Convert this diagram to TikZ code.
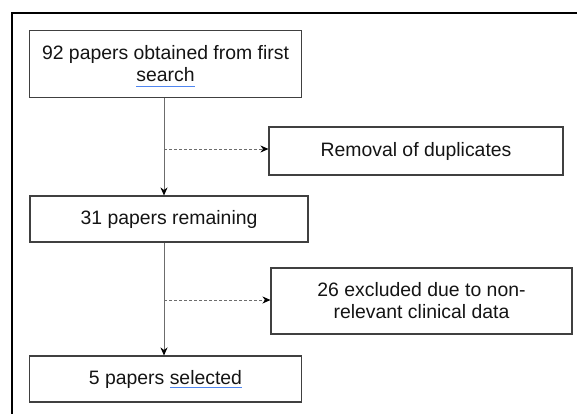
\documentclass[tikz,border=0pt]{standalone}
\usepackage{fontspec}
\setmainfont{Liberation Sans}
\usetikzlibrary{arrows.meta}

\definecolor{boxColour}{HTML}{404040}
\definecolor{textColour}{HTML}{141414}
\definecolor{spellColour}{HTML}{4F86F0}

\tikzset{
    stagebox/.style={draw=boxColour, line width=1.1pt, rectangle, align=center,
        text=textColour, font=\fontsize{19.4}{22}\selectfont, inner sep=0pt},
    flowline/.style={draw=gray!85!black, line width=0.8pt, -{Stealth[length=8pt,width=7pt,black]}},
    dropline/.style={flowline, dashed, dash pattern=on 3pt off 2pt},
    spellline/.style={draw=spellColour, line width=1.2pt}
}

\begin{document}
\begin{tikzpicture}[x=1pt, y=-1pt]
    \useasboundingbox (0,0) rectangle (577,414);

    % Outer frame (only top and left edge visible)
    \draw[line width=2.6pt] (577,13) -- (12,13) -- (12,414);

    % Main stages
    \node[stagebox, minimum width=272pt, minimum height=67pt] (first) at (165.5,64) {92 papers obtained from first\\search};
    \node[stagebox, minimum width=278pt, minimum height=46pt] (remain) at (169,219) {31 papers remaining};
    \node[stagebox, minimum width=272pt, minimum height=46pt] (selected) at (165.5,379) {5 papers selected};

    % Side boxes
    \node[stagebox, minimum width=294pt, minimum height=48pt] (dupl) at (416,151) {Removal of duplicates};
    \node[stagebox, minimum width=301pt, minimum height=66pt] (excl) at (421.5,301) {26 excluded due to non-\\relevant clinical data};

    % Spell-check marks under "search" and "selected"
    \draw[spellline] ([xshift=-29.1pt,yshift=-22.5pt]first.center) -- ([xshift=29.1pt,yshift=-22.5pt]first.center);
    \draw[spellline] ([xshift=4.3pt,yshift=-8.5pt]selected.center) -- ([xshift=76.6pt,yshift=-8.5pt]selected.center);

    % Spine and split points
    \coordinate (spine) at (164,0);
    \coordinate (splitA) at (164,149);
    \coordinate (splitB) at (164,300);

    \draw[flowline] (first.south -| spine) -- (remain.north -| spine);
    \draw[flowline] (remain.south -| spine) -- (selected.north -| spine);
    \draw[dropline] (splitA) -- (dupl.west |- splitA);
    \draw[dropline] (splitB) -- (excl.west |- splitB);

\end{tikzpicture}
\end{document}
